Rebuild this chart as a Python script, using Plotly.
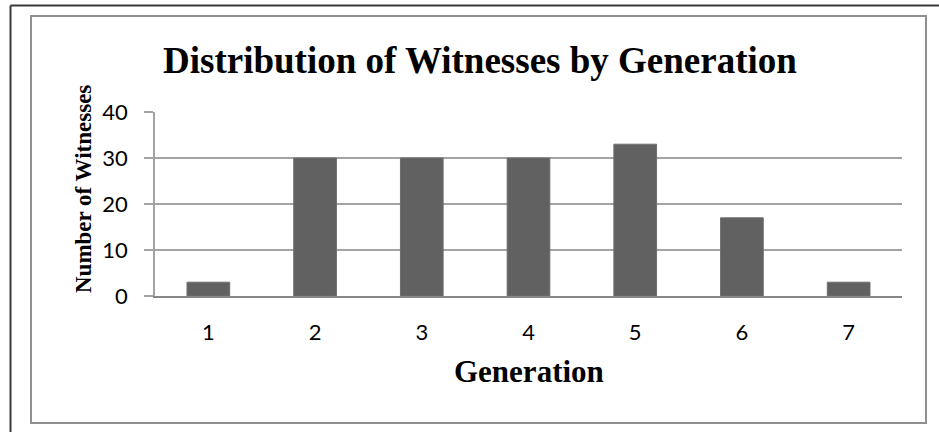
import plotly.graph_objects as go

generations = ["1", "2", "3", "4", "5", "6", "7"]
witnesses = [3, 30, 30, 30, 33, 17, 3]
y_ticks = [0, 10, 20, 30, 40]

W, H = 939, 432
L, R, T, B = 155, 37, 112, 136
PW, PH = W - L - R, H - T - B

def px(x):
    return (x - L) / PW

def py(y):
    return (H - B - y) / PH

fig = go.Figure(go.Bar(
    x=generations, y=witnesses,
    marker=dict(color="#616161", line=dict(color="#6e6e6e", width=1)),
    width=0.4,
))

serif = "Liberation Serif, Times New Roman, serif"
sans = "Lato, Carlito, Calibri, sans-serif"

fig.update_layout(
    width=W, height=H,
    margin=dict(l=L, r=R, t=T, b=B, pad=0),
    paper_bgcolor="white", plot_bgcolor="white",
    showlegend=False,
    xaxis=dict(
        type="category",
        showgrid=False,
        showline=True, linecolor="#878787", linewidth=2,
        ticks="", tickfont=dict(family=sans, size=22, color="#000"),
        ticklabelstandoff=16,
    ),
    yaxis=dict(
        range=[0, 40], tickvals=y_ticks,
        showgrid=True, gridcolor="#a3a3a3", gridwidth=1.5,
        showline=True, linecolor="#a3a3a3", linewidth=1.5,
        ticks="outside", ticklen=9, tickcolor="#a3a3a3", tickwidth=1.5,
        tickfont=dict(family=sans, size=22, color="#000"),
        ticklabelstandoff=12,
        zeroline=False,
    ),
    annotations=[
        dict(text="<b>Distribution of Witnesses by Generation</b>", x=px(480), y=py(60),
             xref="paper", yref="paper", xanchor="center", yanchor="middle",
             showarrow=False, font=dict(family=serif, size=37, color="black")),
        dict(text="<b>Generation</b>", x=px(529), y=py(371),
             xref="paper", yref="paper", xanchor="center", yanchor="middle",
             showarrow=False, font=dict(family=serif, size=31, color="black")),
        dict(text="<b>Number of Witnesses</b>", x=px(83), y=py(189), textangle=-90,
             xref="paper", yref="paper", xanchor="center", yanchor="middle",
             showarrow=False, font=dict(family=serif, size=23, color="black")),
    ],
    shapes=[
        dict(type="line", xref="paper", yref="paper", x0=px(10.5), x1=px(10.5), y0=py(5.5), y1=py(440),
             line=dict(color="#3a3a3a", width=2)),
        dict(type="line", xref="paper", yref="paper", x0=px(10.5), x1=px(950), y0=py(5.5), y1=py(5.5),
             line=dict(color="#3a3a3a", width=2)),
        dict(type="rect", xref="paper", yref="paper", x0=px(31), x1=px(926), y0=py(16), y1=py(423),
             line=dict(color="#8f8f8f", width=2), fillcolor="rgba(0,0,0,0)"),
    ],
)

fig.write_html("out.html", config={"displayModeBar": False},
               post_script="document.body.style.margin='0';document.body.style.overflow='hidden';")
